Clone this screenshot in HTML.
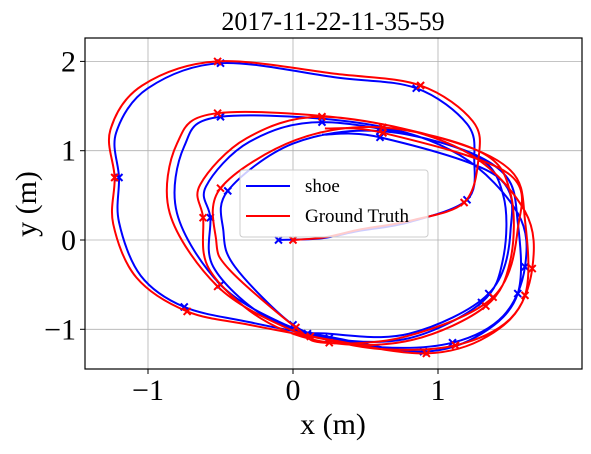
<!DOCTYPE html>
<html><head><meta charset="utf-8"><style>
body{margin:0;background:#fff}
svg text{font-family:"Liberation Serif","Times New Roman",serif;fill:#000}
</style></head><body>
<svg id="c" width="591" height="449">
<text x="333" y="30" font-size="26" text-anchor="middle" font-family="Liberation Serif, serif">2017-11-22-11-35-59</text>
<g id="grid"></g><g id="series"></g>
<rect x="85" y="38" width="497" height="331" fill="none" stroke="#000" stroke-width="1.2"/>
<g id="axes"></g>
<text x="333" y="434" font-size="30" text-anchor="middle" font-family="Liberation Serif, serif">x (m)</text>
<text x="0" y="0" font-size="30" text-anchor="middle" font-family="Liberation Serif, serif" transform="translate(36,204) rotate(-90)">y (m)</text>
<g>
<rect x="240" y="170" width="188" height="67" rx="3" fill="#fff" fill-opacity="0.8" stroke="#ccc"/>
<line x1="246" y1="186" x2="290" y2="186" stroke="#00f" stroke-width="2"/>
<text x="305" y="192" font-size="19" font-family="Liberation Serif, serif">shoe</text>
<line x1="246" y1="216" x2="290" y2="216" stroke="#f00" stroke-width="2"/>
<text x="305" y="222" font-size="19" font-family="Liberation Serif, serif">Ground Truth</text>
</g>
</svg>
<script>
const xTicks=[-1,0,1];
const yTicks=[-1,0,1,2];
const tickLabels={"-1":"\u22121","0":"0","1":"1","2":"2"};
const shoeX=[-0.1,0.2,0.45,0.8,1.2,1.25,1.2,0.85,0.3,-0.5,-1.0,-1.22,-1.2,-1.2,-1.05,-0.75,-0.3,0.1,0.6,1.1,1.45,1.6,1.55,1.15,0.5,-0.5,-0.75,-0.8,-0.5,-0.05,0.3,0.9,1.3,1.55,1.55,1.45,1.0,0.2,-0.3,-0.6,-0.57,-0.55,-0.2,0.25,0.8,1.3,1.45,1.45,1.25,0.6,0.0,-0.45,-0.48,-0.4,0.0,0.25,0.8,1.35,1.5,1.4,0.6,0.2];
const shoeY=[0,0.02,0.1,0.2,0.45,0.9,1.3,1.7,1.82,1.98,1.7,1.2,0.7,0.2,-0.4,-0.75,-0.92,-1.05,-1.2,-1.15,-0.85,-0.3,0.3,0.95,1.3,1.38,1.05,0.3,-0.5,-0.95,-1.1,-1.25,-1.05,-0.6,0.2,0.75,1.1,1.32,1.1,0.6,0.25,-0.3,-0.85,-1.1,-1.1,-0.7,-0.2,0.5,0.95,1.22,1.08,0.55,0.1,-0.3,-0.95,-1.05,-1.05,-0.6,0.1,0.72,1.15,1.18];
const gtX=[0,0.22,0.47,0.82,1.18,1.28,1.24,0.88,0.3,-0.52,-1.04,-1.26,-1.23,-1.24,-1.08,-0.73,-0.3,0.12,0.6,1.12,1.5,1.65,1.6,1.2,0.5,-0.52,-0.8,-0.85,-0.52,-0.05,0.3,0.92,1.34,1.6,1.6,1.5,1.02,0.2,-0.32,-0.64,-0.62,-0.58,-0.22,0.25,0.82,1.33,1.5,1.5,1.3,0.62,0.02,-0.5,-0.53,-0.44,0.02,0.22,0.78,1.38,1.55,1.48,0.62,0.22];
const gtY=[0,0.03,0.12,0.22,0.42,0.92,1.33,1.73,1.86,2.0,1.73,1.23,0.7,0.18,-0.42,-0.8,-0.95,-1.08,-1.22,-1.18,-0.88,-0.32,0.32,0.98,1.33,1.42,1.08,0.3,-0.52,-0.98,-1.13,-1.27,-1.08,-0.62,0.22,0.78,1.14,1.38,1.14,0.62,0.25,-0.32,-0.88,-1.15,-1.12,-0.74,-0.22,0.52,0.98,1.26,1.12,0.58,0.0,-0.33,-0.98,-1.15,-1.08,-0.64,0.12,0.75,1.2,1.25];
const markIdx=[0,4,7,9,12,15,17,19,21,25,28,31,33,37,40,43,45,49,51,54,57,60];
const X=v=>293+v*145, Y=v=>240-v*89.3;
const ns="http://www.w3.org/2000/svg";
const grid=document.getElementById('grid'),axes=document.getElementById('axes'),ser=document.getElementById('series');
function mk(t,a,p){const e=document.createElementNS(ns,t);for(const k in a)e.setAttribute(k,a[k]);p.appendChild(e);return e;}
xTicks.forEach(t=>{
 const g=mk('line',{x1:X(t),x2:X(t),y1:38,y2:369,stroke:'#b0b0b0','stroke-width':0.8},grid);
 
 
 mk('line',{x1:X(t),x2:X(t),y1:369,y2:374,stroke:'#000'},axes);
 const l=mk('text',{x:X(t),y:400,'font-size':30,'text-anchor':'middle','font-family':'Liberation Serif, serif'},axes);l.textContent=tickLabels[t];
 
 
});
yTicks.forEach(t=>{
 const g=mk('line',{x1:85,x2:582,y1:Y(t),y2:Y(t),stroke:'#b0b0b0','stroke-width':0.8},grid);
 
 
 mk('line',{x1:80,x2:85,y1:Y(t),y2:Y(t),stroke:'#000'},axes);
 const l=mk('text',{x:76,y:Y(t)+10,'font-size':30,'text-anchor':'end','font-family':'Liberation Serif, serif'},axes);l.textContent=tickLabels[t];
 
 
});
function path(xs,ys){const p=xs.map((x,i)=>[X(x),Y(ys[i])]);let d='M'+p[0];
 for(let i=0;i<p.length-1;i++){const a=p[Math.max(i-1,0)],b=p[i],c=p[i+1],e=p[Math.min(i+2,p.length-1)];
  d+=' C'+(b[0]+(c[0]-a[0])/6)+','+(b[1]+(c[1]-a[1])/6)+' '+(c[0]-(e[0]-b[0])/6)+','+(c[1]-(e[1]-b[1])/6)+' '+c;}
 return d;}
function draw(xs,ys,col,name){
 const p=mk('path',{d:path(xs,ys),fill:'none',stroke:col,'stroke-width':2},ser);
 
 
 markIdx.forEach(i=>{const cx=X(xs[i]),cy=Y(ys[i]);
  const m=mk('path',{d:`M${cx-3.5},${cy-3.5}L${cx+3.5},${cy+3.5}M${cx-3.5},${cy+3.5}L${cx+3.5},${cy-3.5}`,stroke:col,'stroke-width':2},ser);
  
  });
}
draw(shoeX,shoeY,'#00f','shoe');
draw(gtX,gtY,'#f00','ground-truth');
</script>
</body></html>
